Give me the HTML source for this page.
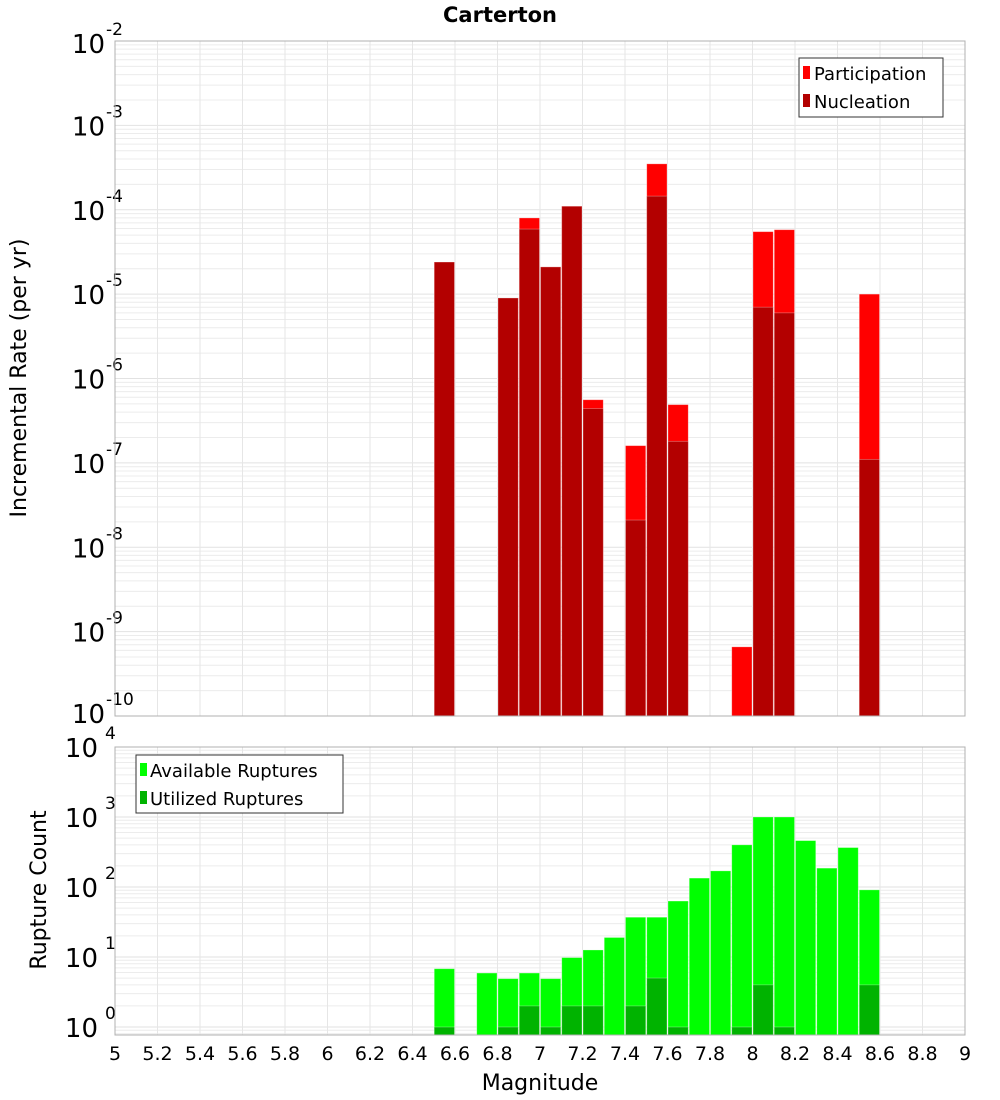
<!DOCTYPE html>
<html><head><meta charset="utf-8"><style>
html,body{margin:0;padding:0;background:#fff;}
svg{display:block;font-family:"DejaVu Sans","Liberation Sans",sans-serif;}
</style></head><body>
<svg id="c" width="1000" height="1100" xmlns="http://www.w3.org/2000/svg">
<text x="500" y="22" text-anchor="middle" font-size="21" font-weight="bold">Carterton</text>
<text transform="translate(26,378) rotate(-90)" text-anchor="middle" font-size="22">Incremental Rate (per yr)</text>
<text transform="translate(46,890) rotate(-90)" text-anchor="middle" font-size="22">Rupture Count</text>
<text x="540" y="1090" text-anchor="middle" font-size="22">Magnitude</text>
<g id="gtop"></g>
<g id="gbot"></g>
<g id="xt"></g>
<g>
<rect x="799" y="58" width="144" height="59" fill="#fff" stroke="#333"/>
<rect x="803" y="66" width="7" height="13" fill="#ff0000"/>
<text x="814" y="80" font-size="18">Participation</text>
<rect x="803" y="94" width="7" height="13" fill="#b30000"/>
<text x="814" y="108" font-size="18">Nucleation</text>
</g>
<g>
<rect x="136" y="755" width="207" height="58" fill="#fff" stroke="#333"/>
<rect x="140" y="763" width="7" height="13" fill="#00ff00"/>
<text x="150" y="777" font-size="18">Available Ruptures</text>
<rect x="140" y="791" width="7" height="13" fill="#00b300"/>
<text x="150" y="805" font-size="18">Utilized Ruptures</text>
</g>
</svg>
<script>
const mags = [6.55,6.65,6.75,6.85,6.95,7.05,7.15,7.25,7.35,7.45,7.55,7.65,7.75,7.85,7.95,8.05,8.15,8.25,8.35,8.45,8.55];
const participation = [2.4e-5,0,0,9e-6,8e-5,2.1e-5,1.1e-4,5.6e-7,0,1.6e-7,3.5e-4,4.9e-7,0,0,6.6e-10,5.5e-5,5.8e-5,0,0,0,1e-5];
const nucleation = [2.4e-5,0,0,9e-6,5.9e-5,2.1e-5,1.1e-4,4.4e-7,0,2.1e-8,1.45e-4,1.8e-7,0,0,0,7e-6,6e-6,0,0,0,1.1e-7];
const available = [6.8,0,5.9,4.9,5.9,4.9,9.8,12.6,19,37,37,63,134,170,400,1000,1000,460,186,366,91];
const utilized = [1,0,0,1,2,1,2,2,0,2,5,1,0,0,1,4,1,0,0,0,4];
const xTicks = [5,5.2,5.4,5.6,5.8,6,6.2,6.4,6.6,6.8,7,7.2,7.4,7.6,7.8,8,8.2,8.4,8.6,8.8,9];
const topDecades = [-10,-9,-8,-7,-6,-5,-4,-3,-2];
const botDecades = [0,1,2,3,4];

const NS="http://www.w3.org/2000/svg";
function mk(tag,attrs,parent){const e=document.createElementNS(NS,tag);for(const k in attrs)e.setAttribute(k,attrs[k]);parent.appendChild(e);return e;}
const X0=115,X1=965;
const x=m=>X0+(m-5)/4*(X1-X0);
const TT=41,TB=716; const yT=v=>TT+(-2-Math.log10(v))*(TB-TT)/8;
const BT=747,BB=1035; const yB=v=>BT+(4-Math.log10(v))*70;
const bw=(X1-X0)/40;

function frame(g,ptop,pbot,dec,yf,minLog,isTop){
  mk('rect',{x:X0,y:ptop,width:X1-X0,height:pbot-ptop,fill:'#fff'},g);
  for(let i=0;i<dec.length;i++){
    for(let k=1;k<10;k++){
      const v=k*Math.pow(10,dec[i]); const yy=yf(v);
      if(yy<ptop-0.5||yy>pbot+0.5)continue;
      const l=mk('line',{x1:X0,x2:X1,y1:yy,y2:yy,stroke:k==1?'#e2e2e2':'#ececec','stroke-width':1},g);
      
      
    }
  }
  if(minLog!==undefined){for(let k=2;k<10;k++){const yy=yf(k*Math.pow(10,minLog));if(yy<=pbot)mk('line',{x1:X0,x2:X1,y1:yy,y2:yy,stroke:'#ececec'},g);}}
  xTicks.forEach(t=>{const l=mk('line',{x1:x(t),x2:x(t),y1:ptop,y2:pbot,stroke:'#e6e6e6'},g);
    
    });
  dec.forEach((d,i)=>{
    const yy=yf(Math.pow(10,d));
    let base=yy+10;
    if(isTop&&i==0)base=yy+7;
    if(isTop&&i==dec.length-1)base=yy+12;
    const lx=isTop?105:98;
    const t=mk('text',{x:lx,y:base,'text-anchor':'end','font-size':26},g);
    
    
    t.textContent='10';
    const s=mk('text',{x:isTop?106:105,y:base-18,'font-size':17},g);
    s.textContent=String(d);
  });
}
const gTop=document.getElementById('gtop'), gBot=document.getElementById('gbot');
frame(gTop,TT,TB,topDecades,yT,undefined,true);
frame(gBot,BT,BB,botDecades,yB,-1,false);

function bars(g,vals,yf,base,color,name){
  vals.forEach((v,i)=>{ if(!v)return;
    const yy=yf(v);
    const r=mk('rect',{x:x(mags[i])-bw/2+0.5,y:yy,width:bw-1,height:base-yy,fill:color,stroke:'rgba(255,255,255,0.35)','stroke-width':0.8},g);
    
    
  });
}
bars(gTop,participation,yT,TB,'#ff0000','participation');
bars(gTop,nucleation,yT,TB,'#b30000','nucleation');
bars(gBot,available,yB,BB,'#00ff00','available');
bars(gBot,utilized,yB,BB,'#00b300','utilized');
mk('rect',{x:X0,y:TT,width:X1-X0,height:TB-TT,fill:'none',stroke:'#b0b0b0'},gTop);
mk('rect',{x:X0,y:BT,width:X1-X0,height:BB-BT,fill:'none',stroke:'#b0b0b0'},gBot);
const xt=document.getElementById('xt');
xTicks.forEach(t=>{const e=mk('text',{x:x(t),y:1060,'text-anchor':'middle','font-size':19},xt);
  
  
  e.textContent=String(t);});
</script>
</body></html>
